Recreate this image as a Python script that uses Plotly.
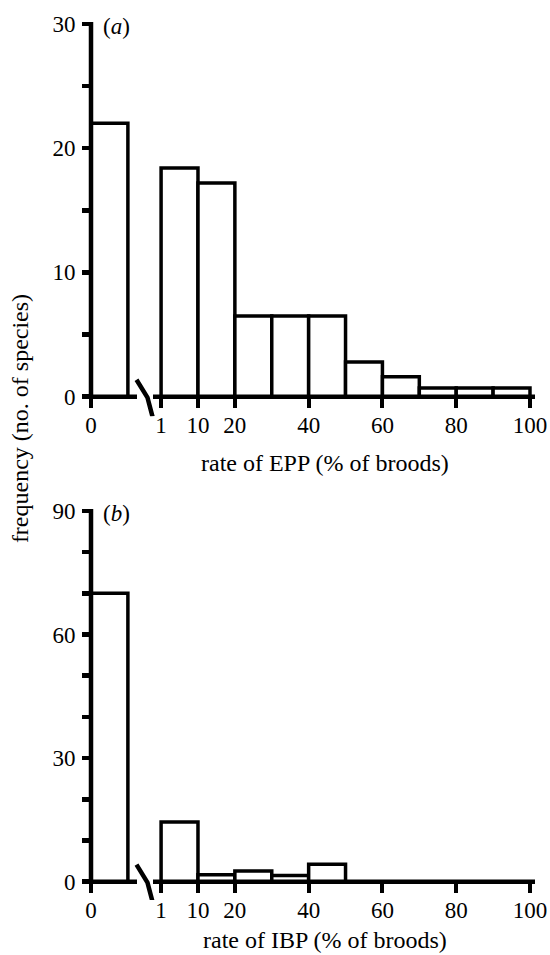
import plotly.graph_objects as go

# ---------------- data ----------------
bin_labels = ["0", "1-10", "10-20", "20-30", "30-40", "40-50",
              "50-60", "60-70", "70-80", "80-90", "90-100"]
bin_lo = [0, 1, 10, 20, 30, 40, 50, 60, 70, 80, 90]
bin_hi = [0, 10, 20, 30, 40, 50, 60, 70, 80, 90, 100]
epp_freq = [22, 18.4, 17.2, 6.5, 6.5, 6.5, 2.8, 1.6, 0.7, 0.7, 0.7]
ibp_freq = [70, 14.5, 1.7, 2.6, 1.5, 4.2, 0, 0, 0, 0, 0]
x_tick_pct = [0, 1, 10, 20, 40, 60, 80, 100]
x_tick_text = ["0", "1", "10", "20", "40", "60", "80", "100"]
epp_yticks = [0, 10, 20, 30]
epp_yminor = [5, 15, 25]
ibp_yticks = [0, 30, 60, 90]
ibp_yminor = [10, 20, 40, 50, 70, 80]

W, H = 550, 955
FONT = "Liberation Serif, Tinos, Times New Roman, Times, DejaVu Serif, serif"


def fx(px):  # page pixel -> paper x
    return px / W


def fy(py):  # page pixel -> paper y
    return 1 - py / H


def pos(v, zero_bin=False):
    """Map a percentage onto the broken axis (zero class occupies 0..1)."""
    if zero_bin:
        return v
    if v <= 10:
        return 1.9 + (v - 1) / 9.0
    return 2.9 + (v - 10) / 10.0


def bar_geom():
    cx, wd = [], []
    for i, (lo, hi) in enumerate(zip(bin_lo, bin_hi)):
        if i == 0:
            a, b = 0.0, 1.0
        else:
            a, b = pos(lo), pos(hi)
        cx.append((a + b) / 2)
        wd.append(b - a)
    return cx, wd


X0PX, XUNIT = 91.0, 36.89          # page px of x=0 and px per axis unit
XL, XR = 60.0, 549.0               # page px of the x domain edges
xrange_ = [(XL - X0PX) / XUNIT, (XR - X0PX) / XUNIT]
xdomain = [fx(XL), fx(XR)]

panels = [
    dict(freq=epp_freq, yt=epp_yticks, ym=epp_yminor, ymax=30,
         y0px=395.5, ytop_px=22.0, dom=(12, 415), label="a",
         title="rate of EPP (% of broods)", title_y=462),
    dict(freq=ibp_freq, yt=ibp_yticks, ym=ibp_yminor, ymax=90,
         y0px=881.5, ytop_px=510.0, dom=(495, 900), label="b",
         title="rate of IBP (% of broods)", title_y=940),
]

fig = go.Figure()
cx, wd = bar_geom()
shapes, annotations = [], []
layout = {}

for k, p in enumerate(panels):
    s = "" if k == 0 else str(k + 1)
    unit = (p["y0px"] - p["ytop_px"]) / p["ymax"]  # px per unit
    y_lo = (p["y0px"] - p["dom"][1]) / unit
    y_hi = (p["y0px"] - p["dom"][0]) / unit
    fig.add_trace(go.Bar(
        x=cx, y=p["freq"], width=wd, base=0,
        marker=dict(color="white", line=dict(color="black", width=3.5)),
        xaxis="x" + s, yaxis="y" + s, showlegend=False, hoverinfo="skip"))
    layout["xaxis" + s] = dict(
        domain=xdomain, range=xrange_, anchor="free",
        position=fy(p["y0px"]),
        tickvals=[pos(v, zero_bin=(v == 0)) for v in x_tick_pct],
        ticktext=x_tick_text, ticks="outside", ticklen=10, tickwidth=4,
        tickcolor="black", showline=False, showgrid=False, zeroline=False,
        tickfont=dict(family=FONT, size=23, color="black"),
        ticklabelstandoff=-2, fixedrange=True)
    layout["yaxis" + s] = dict(
        domain=[fy(p["dom"][1]), fy(p["dom"][0])],
        range=[y_lo, y_hi], anchor="free", position=fx(X0PX),
        tickvals=p["yt"], ticks="outside", ticklen=9, tickwidth=4.5,
        tickcolor="black", showline=False, showgrid=False, zeroline=False,
        tickfont=dict(family=FONT, size=23, color="black"),
        ticklabelstandoff=2, fixedrange=True,
        minor=dict(tickvals=p["ym"], ticks="outside", ticklen=9,
                   tickwidth=4.5, tickcolor="black", showgrid=False))
    xr, yr = "x" + s, "y" + s
    bx = lambda px: (px - X0PX) / XUNIT
    by = lambda d, u=unit: -d / u
    # y axis line
    shapes.append(dict(type="line", xref=xr, yref=yr, x0=0, x1=0,
                       y0=by(2), y1=p["ymax"] + by(-2),
                       line=dict(color="black", width=4.5)))
    # x axis line with break
    shapes.append(dict(type="line", xref=xr, yref=yr, x0=bx(89), x1=bx(137),
                       y0=0, y1=0, line=dict(color="black", width=4.5)))
    shapes.append(dict(type="line", xref=xr, yref=yr, x0=bx(153), x1=bx(535),
                       y0=0, y1=0, line=dict(color="black", width=4.5)))
    path = "M %f,%f L %f,%f L %f,%f" % (bx(136.5), by(-17), bx(147.5), by(1),
                                          bx(152.5), by(20))
    shapes.append(dict(type="path", xref=xr, yref=yr, path=path,
                       line=dict(color="black", width=4.5)))
    annotations.append(dict(
        xref="paper", yref="paper", x=fx(101), y=fy(p["ytop_px"] + 3),
        xanchor="left", yanchor="middle", showarrow=False,
        text="(<i>%s</i>)" % p["label"],
        font=dict(family=FONT, size=23, color="black")))
    annotations.append(dict(
        xref="paper", yref="paper", x=fx(325), y=fy(p["title_y"]),
        xanchor="center", yanchor="middle", showarrow=False, text=p["title"],
        font=dict(family=FONT, size=24, color="black")))

annotations.append(dict(
    xref="paper", yref="paper", x=fx(20), y=fy(418),
    xanchor="center", yanchor="middle", showarrow=False, textangle=-90,
    text="frequency (no. of species)",
    font=dict(family=FONT, size=24, color="black")))

fig.update_layout(
    width=W, height=H, margin=dict(l=0, r=0, t=0, b=0),
    paper_bgcolor="white", plot_bgcolor="rgba(0,0,0,0)",
    shapes=shapes, annotations=annotations, bargap=0, **layout)

fig.write_html(
    "out.html",
    config={"displayModeBar": False, "staticPlot": True},
    post_script="document.body.style.margin='0';"
                "document.body.style.overflow='hidden';")
